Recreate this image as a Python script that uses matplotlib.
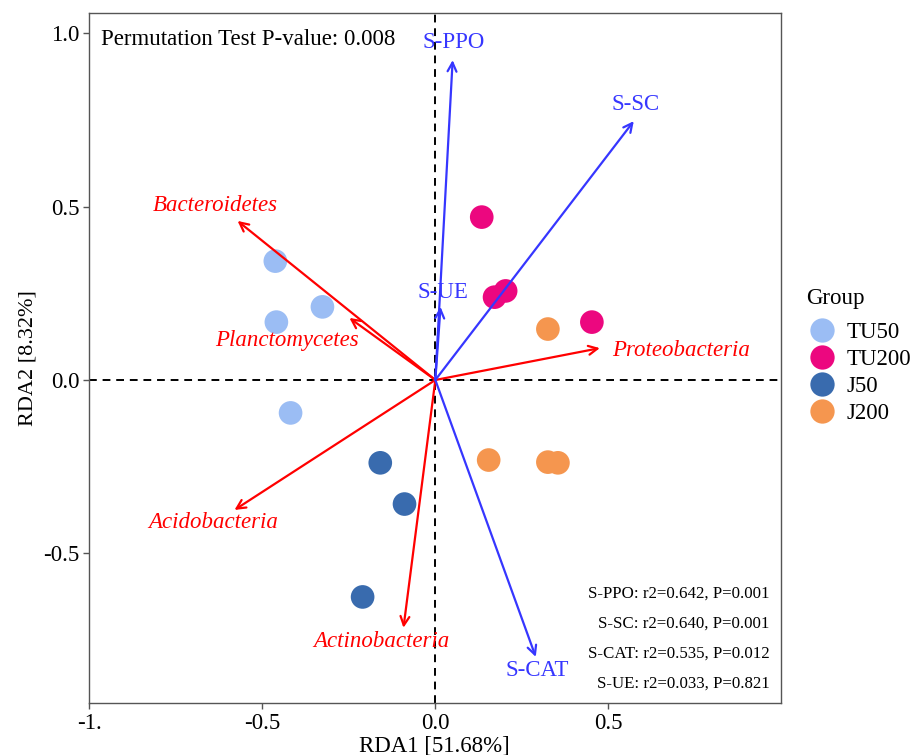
import numpy as np
from matplotlib import pyplot as plt
from matplotlib.lines import Line2D

plt.rcParams['font.family'] = ['Liberation Serif', 'DejaVu Serif']

# sample scores (RDA1, RDA2)
groups = ['TU50', 'TU200', 'J50', 'J200']
group_colors = ['#9BBDF4', '#EC077F', '#396BAE', '#F5964F']
tu50_x = [-0.462, -0.459, -0.326, -0.418]
tu50_y = [0.343, 0.167, 0.211, -0.095]
tu200_x = [0.134, 0.171, 0.203, 0.452]
tu200_y = [0.470, 0.239, 0.257, 0.167]
j50_x = [-0.159, -0.089, -0.210]
j50_y = [-0.239, -0.358, -0.626]
j200_x = [0.325, 0.154, 0.325, 0.354]
j200_y = [0.147, -0.231, -0.237, -0.239]

# species arrows
species = ['Bacteroidetes', 'Planctomycetes', 'Proteobacteria', 'Acidobacteria', 'Actinobacteria']
species_x = [-0.571, -0.248, 0.475, -0.580, -0.092]
species_y = [0.459, 0.179, 0.092, -0.375, -0.715]

# environmental arrows
env = ['S-PPO', 'S-SC', 'S-UE', 'S-CAT']
env_x = [0.050, 0.573, 0.015, 0.290]
env_y = [0.923, 0.747, 0.211, -0.799]

envfit_lines = ['S-PPO: r2=0.642, P=0.001',
                'S-SC: r2=0.640, P=0.001',
                'S-CAT: r2=0.535, P=0.012',
                'S-UE: r2=0.033, P=0.821']

FS = 16.5

fig = plt.figure(figsize=(9.13, 7.55), dpi=100)
ax = fig.add_axes([0.0975, 0.0689, 0.7575, 0.9139])

ax.axhline(0, color='black', lw=1.4, ls=(0, (4, 3)), zorder=1)
ax.axvline(0, color='black', lw=1.4, ls=(0, (4, 3)), zorder=1)

xs = [tu50_x, tu200_x, j50_x, j200_x]
ys = [tu50_y, tu200_y, j50_y, j200_y]
for g, c, x, y in zip(groups, group_colors, xs, ys):
    ax.scatter(x, y, s=290, color=c, edgecolors='none', zorder=2)


def draw_arrows(names, ax_x, ax_y, color, offsets, italic):
    for name, x, y, (dx, dy, ha) in zip(names, ax_x, ax_y, offsets):
        ax.annotate('', xy=(x, y), xytext=(0, 0),
                    arrowprops=dict(arrowstyle='->', color=color, lw=1.6,
                                    mutation_scale=16, shrinkA=0, shrinkB=0),
                    zorder=3)
        ax.annotate(name, xy=(x, y), xytext=(dx, dy), textcoords='offset points',
                    ha=ha, va='center', color=color, fontsize=FS,
                    style='italic' if italic else 'normal', zorder=4)


species_offsets = [(-16, 11, 'center'), (-45, -16, 'center'), (9, -2, 'left'),
                   (-15, -9, 'center'), (-16, -10, 'center')]
env_offsets = [(1, 13, 'center'), (1.5, 12, 'center'), (1.5, 10, 'center'), (1, -10, 'center')]

draw_arrows(species, species_x, species_y, '#FF0000', species_offsets, True)
draw_arrows(env, env_x, env_y, '#3636FF', env_offsets, False)

ax.text(0.018, 0.977, 'Permutation Test P-value: 0.008', transform=ax.transAxes,
        ha='left', va='top', fontsize=FS)

for i, line in enumerate(envfit_lines):
    ax.text(0.984, 0.159 - i * 0.0435, line, transform=ax.transAxes,
            ha='right', va='center', fontsize=12.2)

ax.set_xlim(-1.0, 0.997)
ax.set_ylim(-0.932, 1.059)
ax.set_xticks([-1.0, -0.5, 0.0, 0.5])
ax.set_xticklabels(['-1.', '-0.5', '0.0', '0.5'])
ax.set_yticks([-0.5, 0.0, 0.5, 1.0])
ax.set_yticklabels(['-0.5', '0.0', '0.5', '1.0'])
ax.tick_params(labelsize=FS, length=4, width=1, color='#555555', pad=3)
for s in ax.spines.values():
    s.set_color('#555555')
    s.set_linewidth(1)

ax.set_xlabel('RDA1 [51.68%]', fontsize=FS, labelpad=1)
ax.set_ylabel('RDA2 [8.32%]', fontsize=16, labelpad=4)

# legend
fig.text(0.8828, 0.604, 'Group', ha='left', va='center', fontsize=FS)
handles = [Line2D([], [], marker='o', ls='none', markersize=17.5, color=c, markeredgewidth=0)
           for c in group_colors]
fig.legend(handles, groups, loc='upper left', bbox_to_anchor=(0.8858, 0.573),
           bbox_transform=fig.transFigure, frameon=False, fontsize=FS,
           handletextpad=0.46, labelspacing=0.26, handlelength=1.2,
           borderpad=0, borderaxespad=0)

fig.savefig('out.png', dpi=100)
